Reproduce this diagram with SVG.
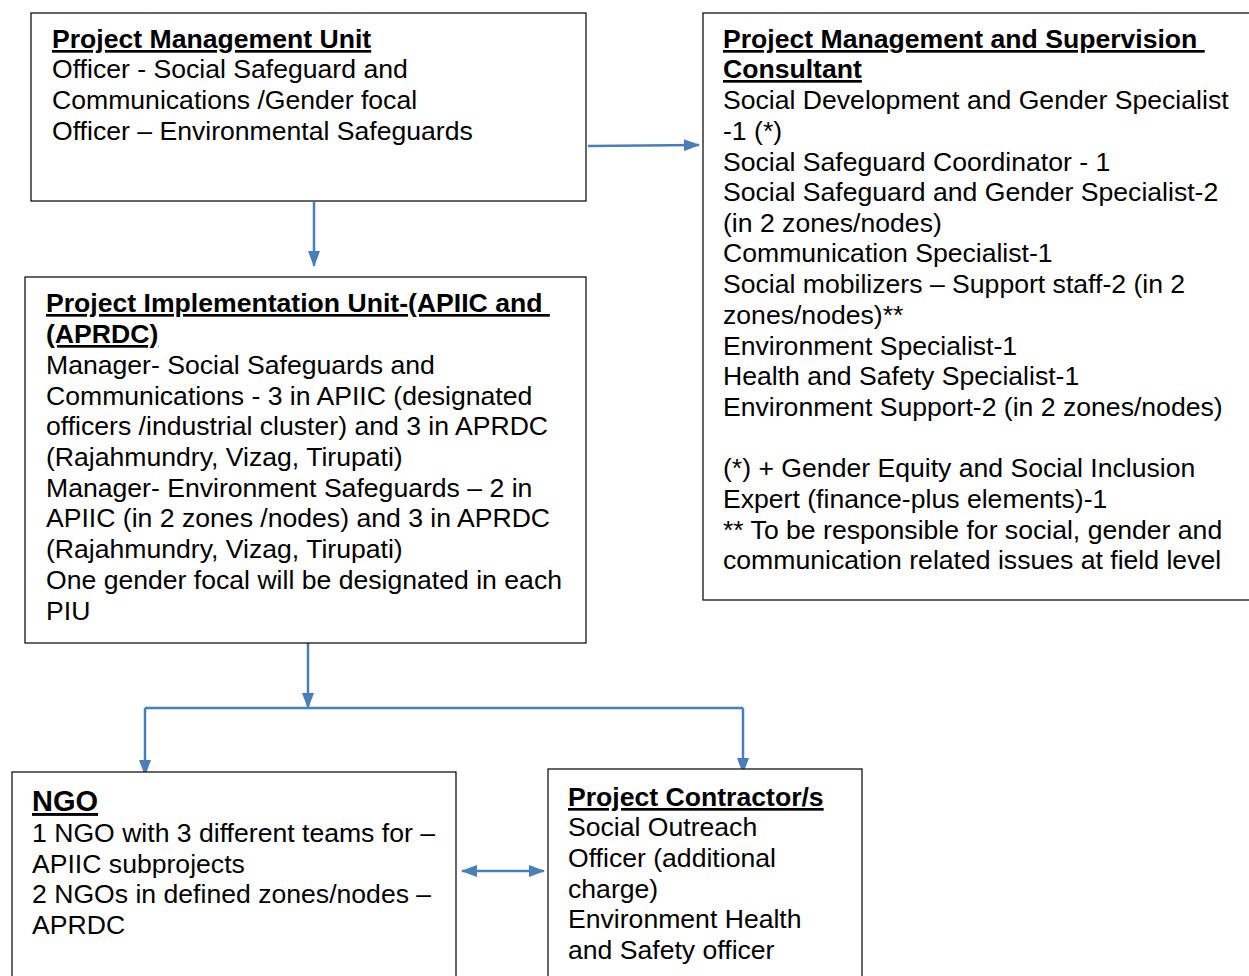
<svg xmlns="http://www.w3.org/2000/svg" width="1249" height="976" viewBox="0 0 1249 976">
<style>
.box{fill:#fff;stroke:#000;stroke-width:1.2}
text{font-family:"Liberation Sans",Arial,sans-serif;font-size:26.6px;fill:#000}
.h{font-weight:bold;text-decoration:underline}
.c{stroke:#4a7ebb;stroke-width:2.5;fill:none}
</style>
<defs>
<marker id="ah" markerWidth="16" markerHeight="12" refX="15" refY="6" orient="auto" markerUnits="userSpaceOnUse">
<path d="M0,0 L16,6 L0,12 Z" fill="#4a7ebb"/>
</marker>
<marker id="as" markerWidth="16" markerHeight="12" refX="1" refY="6" orient="auto" markerUnits="userSpaceOnUse">
<path d="M16,0 L0,6 L16,12 Z" fill="#4a7ebb"/>
</marker>
</defs>
<g id="connectors">
<path class="c" d="M314,202 V266" marker-end="url(#ah)"/>
<path class="c" d="M588,146 L699,145" marker-end="url(#ah)"/>
<path class="c" d="M308,636 V708" marker-end="url(#ah)"/>
<path class="c" d="M145,708 H743"/>
<path class="c" d="M145,708 V775" marker-end="url(#ah)"/>
<path class="c" d="M743,708 V773" marker-end="url(#ah)"/>
<path class="c" d="M462,871 H544" marker-start="url(#as)" marker-end="url(#ah)"/>
</g>
<g id="pmu">
<rect class="box" x="31" y="13" width="555" height="188"/>
<text x="52" y="48" class="h">Project Management Unit</text>
<text x="52" y="78">Officer - Social Safeguard and</text>
<text x="52" y="109">Communications /Gender focal</text>
<text x="52" y="140">Officer – Environmental Safeguards</text>
</g>
<g id="pmsc">
<rect class="box" x="703" y="13" width="560" height="587"/>
<text x="723" y="48" class="h">Project Management and Supervision&#160;</text>
<text x="723" y="78" class="h">Consultant</text>
<text x="723" y="109">Social Development and Gender Specialist</text>
<text x="723" y="140">-1 (*)</text>
<text x="723" y="171">Social Safeguard Coordinator - 1</text>
<text x="723" y="201">Social Safeguard and Gender Specialist-2</text>
<text x="723" y="232">(in 2 zones/nodes)</text>
<text x="723" y="262">Communication Specialist-1</text>
<text x="723" y="293">Social mobilizers – Support staff-2 (in 2</text>
<text x="723" y="324">zones/nodes)**</text>
<text x="723" y="355">Environment Specialist-1</text>
<text x="723" y="385">Health and Safety Specialist-1</text>
<text x="723" y="416">Environment Support-2 (in 2 zones/nodes)</text>
<text x="723" y="477">(*) + Gender Equity and Social Inclusion</text>
<text x="723" y="508">Expert (finance-plus elements)-1</text>
<text x="723" y="539">** To be responsible for social, gender and</text>
<text x="723" y="569">communication related issues at field level</text>
</g>
<g id="piu">
<rect class="box" x="25" y="277" width="561" height="366"/>
<text x="46" y="312" class="h">Project Implementation Unit-(APIIC and&#160;</text>
<text x="46" y="343" class="h">(APRDC)</text>
<text x="46" y="374">Manager- Social Safeguards and</text>
<text x="46" y="405">Communications - 3 in APIIC (designated</text>
<text x="46" y="435">officers /industrial cluster) and 3 in APRDC</text>
<text x="46" y="466">(Rajahmundry, Vizag, Tirupati)</text>
<text x="46" y="497">Manager- Environment Safeguards – 2 in</text>
<text x="46" y="527">APIIC (in 2 zones /nodes) and 3 in APRDC</text>
<text x="46" y="558">(Rajahmundry, Vizag, Tirupati)</text>
<text x="46" y="589">One gender focal will be designated in each</text>
<text x="46" y="620">PIU</text>
</g>
<g id="ngo">
<rect class="box" x="12" y="772" width="444" height="220"/>
<text x="32" y="811" class="h" style="font-size:29px">NGO</text>
<text x="32" y="842">1 NGO with 3 different teams for –</text>
<text x="32" y="873">APIIC subprojects</text>
<text x="32" y="903">2 NGOs in defined zones/nodes –</text>
<text x="32" y="934">APRDC</text>
</g>
<g id="contractor">
<rect class="box" x="548" y="769" width="314" height="220"/>
<text x="568" y="806" class="h">Project Contractor/s</text>
<text x="568" y="836">Social Outreach</text>
<text x="568" y="867">Officer (additional</text>
<text x="568" y="898">charge)</text>
<text x="568" y="928">Environment Health</text>
<text x="568" y="959">and Safety officer</text>
</g>
</svg>
